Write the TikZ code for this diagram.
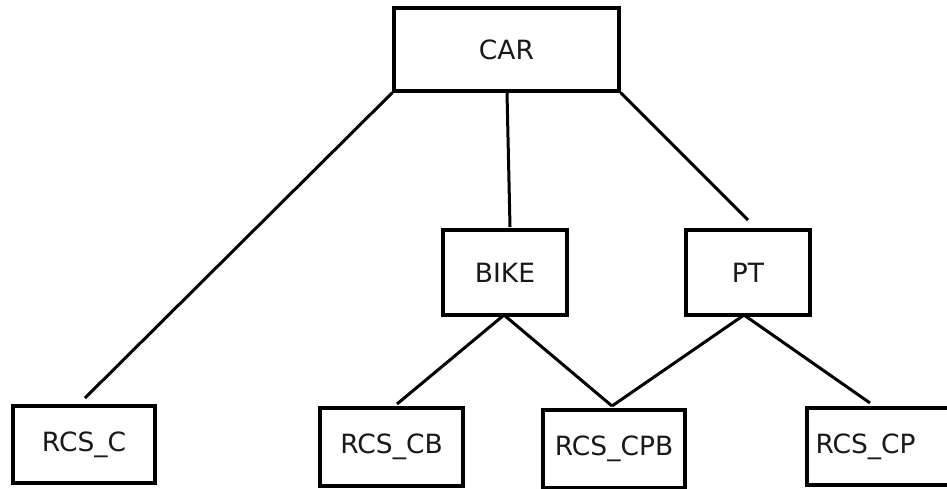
\documentclass[tikz,border=0pt]{standalone}
\usepackage{fontspec}
\setmainfont{DejaVu Sans}
\begin{document}
\begin{tikzpicture}[x=1pt,y=-1pt,
  box/.style={draw=black,line width=3.2pt,rectangle,inner sep=0pt,
    font=\fontsize{26.5}{30}\selectfont,text=black!90},
  link/.style={draw=black,line width=3pt}]
\useasboundingbox (0,0) rectangle (947,488);
\node[box,minimum width=225pt,minimum height=83pt] (car) at (506.5,49.5) {CAR};
\node[box,minimum width=124pt,minimum height=85pt] (bike) at (505,272.5) {BIKE};
\node[box,minimum width=124pt,minimum height=85pt] (pt) at (748,272.5) {PT};
\node[box,minimum width=142pt,minimum height=77pt] (rc) at (84,444.5) {\raisebox{-2pt}{RCS\_C}};
\node[box,minimum width=143pt,minimum height=78pt] (rcb) at (391.5,447) {RCS\_CB};
\node[box,minimum width=142pt,minimum height=78pt] (rcpb) at (614,449) {\raisebox{2pt}{RCS\_CPB}};
\node[box,minimum width=149pt,minimum height=77pt,text width=132pt,align=left] (rcp) at (881.5,446.5) {RCS\_CP};
\coordinate (bikeTop) at (510,227);
\coordinate (ptTop) at (748,220);
\coordinate (rcTop) at (85,398);
\coordinate (rcbTop) at (397,404);
\coordinate (rcpbTop) at (612,406);
\coordinate (rcpTop) at (870,403);
\coordinate (bikeBot) at (504,315);
\coordinate (ptBot) at (744,315);
\draw[link] (car.south west) -- (rcTop);
\draw[link] ([xshift=0.5pt]car.south) -- (bikeTop);
\draw[link] (car.south east) -- (ptTop);
\draw[link] (bikeBot) -- (rcbTop);
\draw[link] (bikeBot) -- (rcpbTop);
\draw[link] (ptBot) -- (rcpbTop);
\draw[link] (ptBot) -- (rcpTop);
\end{tikzpicture}
\end{document}
